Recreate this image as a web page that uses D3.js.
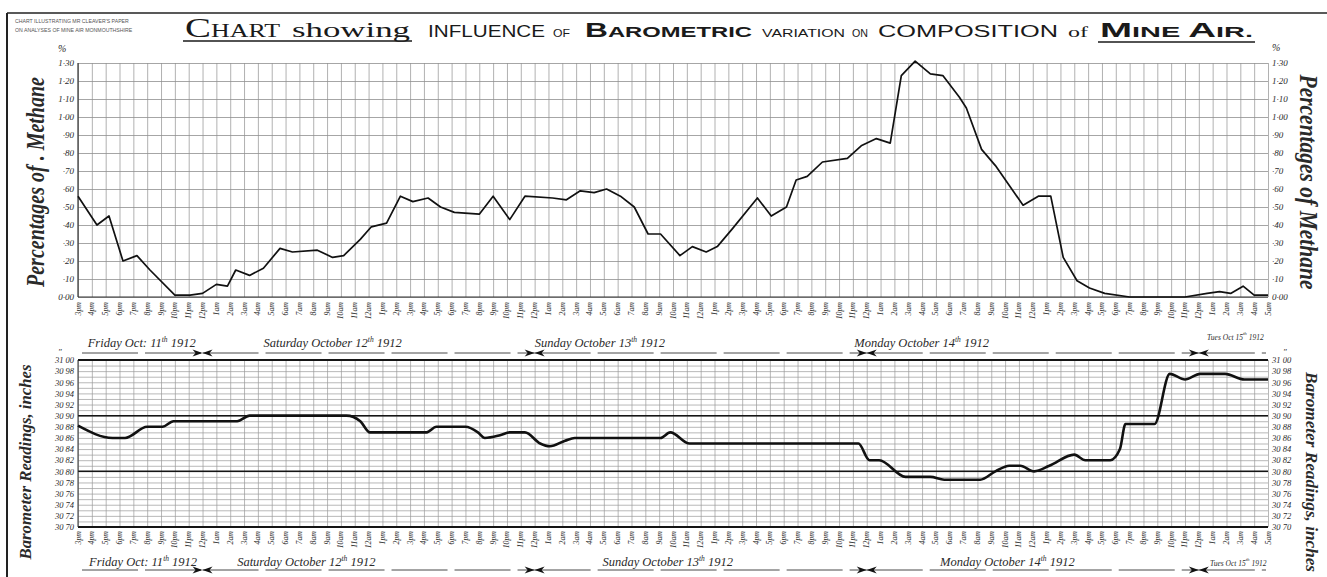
<!DOCTYPE html>
<html><head><meta charset="utf-8">
<script src="https://cdn.jsdelivr.net/npm/d3@7"></script>
<style>
html,body{margin:0;padding:0;background:#fff;}
svg{display:block;}
.lbl{font-family:"Liberation Serif","DejaVu Serif",serif;font-style:italic;fill:#2a2a2a;}
</style></head><body>
<svg id="chart" width="1327" height="577"></svg>
<script>
// Methane in mine air, % by volume; hours counted from 3 p.m. Friday 11 Oct 1912
const methaneHours = [0,1.37,2.24,3.25,4.26,5.2,7.0,8.1,9.0,10.0,10.8,11.4,12.4,13.4,14.6,15.5,17.3,18.4,19.2,20.4,21.2,22.3,23.3,24.2,25.3,26.2,27.2,29.0,30.0,31.2,32.3,34.3,35.3,36.3,37.3,38.2,39.2,40.2,41.2,42.1,43.5,44.4,45.4,46.2,47.3,49.1,50.1,51.2,51.9,52.7,53.8,55.6,56.6,57.7,58.7,59.5,60.5,61.6,62.5,63.7,64.2,65.3,66.3,68.3,69.4,70.3,71.2,72.2,73.1,74.2,76.0,80.0,81.6,82.5,83.3,84.2,85.0,86];
const methaneValues = [0.56,0.40,0.45,0.20,0.23,0.15,0.01,0.01,0.02,0.07,0.06,0.15,0.12,0.16,0.27,0.25,0.26,0.22,0.23,0.32,0.39,0.41,0.56,0.53,0.55,0.50,0.47,0.46,0.56,0.43,0.56,0.55,0.54,0.59,0.58,0.60,0.56,0.50,0.35,0.35,0.23,0.28,0.25,0.28,0.38,0.55,0.45,0.50,0.65,0.67,0.75,0.77,0.84,0.88,0.855,1.23,1.31,1.24,1.23,1.11,1.05,0.82,0.73,0.51,0.56,0.56,0.22,0.09,0.05,0.02,0.00,0.00,0.02,0.03,0.02,0.06,0.01,0.01];

// Barometer, inches of mercury, same time base
const pressureHours = [0,2.5,3.4,5.0,6.1,6.9,11.5,12.4,19.4,20.4,21.1,25.2,25.9,28.0,28.9,29.4,30.5,31.2,32.3,33.4,34.1,35.2,35.9,42.1,42.8,44.2,56.4,57.2,57.9,59.8,61.6,62.6,65.2,66.3,67.3,68.1,69.1,70.2,72.0,72.8,74.6,75.3,75.7,77.8,78.9,80.0,81.1,82.9,84.3,86];
const pressureValues = [30.882,30.86,30.86,30.88,30.88,30.89,30.89,30.90,30.90,30.89,30.87,30.87,30.88,30.88,30.87,30.86,30.865,30.87,30.87,30.85,30.845,30.855,30.86,30.86,30.87,30.85,30.85,30.82,30.82,30.79,30.79,30.785,30.785,30.80,30.81,30.81,30.80,30.81,30.83,30.82,30.82,30.84,30.885,30.885,30.975,30.965,30.975,30.975,30.965,30.965];

// axis ticks
const methaneTicks = [0,0.1,0.2,0.3,0.4,0.5,0.6,0.7,0.8,0.9,1.0,1.1,1.2,1.3];
const methaneTickLabels = ["0·00","·10","·20","·30","·40","·50","·60","·70","·80","·90","1·00","1·10","1·20","1·30"];
const pressureTicks = [30.70,30.72,30.74,30.76,30.78,30.80,30.82,30.84,30.86,30.88,30.90,30.92,30.94,30.96,30.98,31.00];
const pressureTickLabels = ["30 70","30 72","30 74","30 76","30 78","30 80","30 82","30 84","30 86","30 88","30 90","30 92","30 94","30 96","30 98","31 00"];

// clock names by hour of day (midnight written 12pm, noon 12am)
const clockCycle = ["12pm","1am","2am","3am","4am","5am","6am","7am","8am","9am","10am","11am","12am","1pm","2pm","3pm","4pm","5pm","6pm","7pm","8pm","9pm","10pm","11pm"];
const firstClockHour = 15;
const hourCount = 86;

// day spans (hours) and where their names sit
const dayNames = [["Friday Oct: 11","th"," 1912"],["Saturday  October 12","th"," 1912"],["Sunday  October 13","th"," 1912"],["Monday  October 14","th"," 1912"],["Tues Oct 15","th"," 1912"]];
const dayStarts = [0,9,33,57,81];
const dayEnds = [9,33,57,81,86];
const upperNameAt = [0.7,13.4,33.0,56.1,81.6];
const lowerNameAt = [0.8,11.5,37.9,62.3,81.8];

const svg = d3.select("#chart");
const L = 78, R = 1268;
const x = d3.scaleLinear().domain([0, hourCount]).range([L, R]);
const yM = d3.scaleLinear().domain([0, 1.3]).range([297, 63]);
const yP = d3.scaleLinear().domain([30.70, 31.00]).range([527, 360]);
const hours = d3.range(0, hourCount + 1);

// page frame
svg.append("line").attr("x1",7).attr("x2",1327).attr("y1",13).attr("y2",13).attr("stroke","#222").attr("stroke-width",1.6);
svg.append("line").attr("x1",7).attr("x2",7).attr("y1",13).attr("y2",577).attr("stroke","#222").attr("stroke-width",2);

// note in the corner
svg.append("text").attr("x",15).attr("y",23).attr("font-family","Liberation Sans").attr("font-size",5.2).attr("fill","#555").text("CHART ILLUSTRATING MR CLEAVER'S  PAPER");
svg.append("text").attr("x",15).attr("y",32).attr("font-family","Liberation Sans").attr("font-size",5.2).attr("fill","#555").text("ON  ANALYSES OF MINE AIR   MONMOUTHSHIRE");

// title, word by word
function word(txt, x0, x1, opts) {
  const t = svg.append("text").attr("x", x0).attr("y", opts.y || 37)
    .attr("font-family", opts.family).attr("font-size", opts.size)
    .attr("font-weight", opts.weight || "normal").attr("fill", "#1a1a1a")
    .attr("textLength", x1 - x0).attr("lengthAdjust", "spacingAndGlyphs");
  if (Array.isArray(txt)) txt.forEach(p => t.append("tspan").attr("font-size", p[1]).text(p[0]));
  else t.text(txt);
  return t;
}
const serif = "Liberation Serif", sans = "Liberation Sans";
word([["C",27],["HART",18]], 185, 280, {family: serif, size: 18});
word("showing", 292, 410, {family: serif, size: 22});
svg.append("line").attr("x1",183).attr("x2",412).attr("y1",41).attr("y2",41).attr("stroke","#1a1a1a").attr("stroke-width",1.4);
word("INFLUENCE", 428, 545, {family: sans, size: 16});
word("OF", 553, 570, {family: sans, size: 10});
word([["B",20],["AROMETRIC",15]], 585, 752, {family: sans, size: 15, weight: "bold"});
word("VARIATION", 762, 845, {family: sans, size: 11});
word("ON", 852, 868, {family: sans, size: 11});
word("COMPOSITION", 878, 1058, {family: sans, size: 16});
word("of", 1068, 1088, {family: serif, size: 15});
word([["M",20],["INE ",15],["A",20],["IR.",15]], 1100, 1253, {family: sans, size: 15, weight: "bold"});
svg.append("line").attr("x1",1098).attr("x2",1255).attr("y1",42).attr("y2",42).attr("stroke","#1a1a1a").attr("stroke-width",1.4);

// ---------- methane panel ----------
const methanePanel = svg.append("g");
methanePanel.append("g").attr("transform", `translate(0,${yM(0)})`)
  .call(d3.axisBottom(x).tickValues(hours).tickSize(-(yM(0) - yM(1.3))).tickFormat(""))
  .call(g => g.select(".domain").remove())
  .call(g => g.selectAll("line").attr("stroke", "#8f8f8f").attr("stroke-width", 0.7));
methanePanel.append("g").attr("transform", `translate(${L},0)`)
  .call(d3.axisLeft(yM).tickValues(methaneTicks).tickSize(-(R - L)).tickFormat(""))
  .call(g => g.select(".domain").remove())
  .call(g => g.selectAll("line").attr("stroke", "#8f8f8f").attr("stroke-width", 0.8));
methanePanel.append("line").attr("x1",L).attr("x2",R).attr("y1",yM(0)).attr("y2",yM(0)).attr("stroke","#333").attr("stroke-width",1.2);
methanePanel.append("line").attr("x1",L).attr("x2",L).attr("y1",yM(0)).attr("y2",yM(1.3)).attr("stroke","#333").attr("stroke-width",1.2);

// value labels both sides
[[L - 4, "end"], [R + 4, "start"]].forEach(([px, anchor]) => {
  methanePanel.append("g").attr("transform", `translate(${px},0)`)
    .call(d3.axisLeft(yM).tickValues(methaneTicks).tickSize(0).tickPadding(0)
      .tickFormat((d, i) => methaneTickLabels[i]))
    .call(g => g.select(".domain").remove())
    .call(g => g.selectAll("text").attr("class", "lbl").attr("font-size", 9)
      .attr("text-anchor", anchor).attr("fill", "#2a2a2a"));
});
svg.append("text").attr("class","lbl").attr("x",58).attr("y",52).attr("font-size",10).text("%");
svg.append("text").attr("class","lbl").attr("x",1272).attr("y",51).attr("font-size",10).text("%");

const methaneLine = d3.line().x(d => x(d[0])).y(d => yM(d[1]));
methanePanel.append("path").datum(d3.zip(methaneHours, methaneValues))
  .attr("d", methaneLine).attr("fill", "none").attr("stroke", "#111")
  .attr("stroke-width", 1.7).attr("stroke-linejoin", "round");

// ---------- barometer panel ----------
const pressurePanel = svg.append("g");
const pressureFine = d3.range(0, 31).map(i => 30.70 + i * 0.01);
pressurePanel.append("g").attr("transform", `translate(${L},0)`)
  .call(d3.axisLeft(yP).tickValues(pressureFine).tickSize(-(R - L)).tickFormat(""))
  .call(g => g.select(".domain").remove())
  .call(g => g.selectAll("line").attr("stroke", "#9a9a9a").attr("stroke-width", 0.7));
pressurePanel.append("g").attr("transform", `translate(0,${yP(30.70)})`)
  .call(d3.axisBottom(x).tickValues(hours).tickSize(-(yP(30.70) - yP(31.00))).tickFormat(""))
  .call(g => g.select(".domain").remove())
  .call(g => g.selectAll("line").attr("stroke", "#9a9a9a").attr("stroke-width", 0.7));
[[31.00, 2.2], [30.90, 1.5], [30.80, 1.5], [30.70, 2.2]].forEach(([v, w]) => {
  pressurePanel.append("line").attr("x1", L).attr("x2", R).attr("y1", yP(v)).attr("y2", yP(v))
    .attr("stroke", "#151515").attr("stroke-width", w);
});
pressurePanel.append("line").attr("x1",L).attr("x2",L).attr("y1",yP(30.70)).attr("y2",yP(31.0)).attr("stroke","#333").attr("stroke-width",1);

[[L - 4, "end"], [R + 4, "start"]].forEach(([px, anchor]) => {
  pressurePanel.append("g").attr("transform", `translate(${px},0)`)
    .call(d3.axisLeft(yP).tickValues(pressureTicks).tickSize(0).tickPadding(0)
      .tickFormat((d, i) => pressureTickLabels[i]))
    .call(g => g.select(".domain").remove())
    .call(g => g.selectAll("text").attr("class", "lbl").attr("font-size", 8.5)
      .attr("text-anchor", anchor).attr("fill", "#2a2a2a"));
});
// inch marks beside the 31 inch labels
svg.append("text").attr("class","lbl").attr("x",58).attr("y",355).attr("font-size",9).text("″");
svg.append("text").attr("class","lbl").attr("x",1283).attr("y",355).attr("font-size",9).text("″");

const pressureLine = d3.line().x(d => x(d[0])).y(d => yP(d[1])).curve(d3.curveMonotoneX);
pressurePanel.append("path").datum(d3.zip(pressureHours, pressureValues))
  .attr("d", pressureLine).attr("fill", "none").attr("stroke", "#111")
  .attr("stroke-width", 2.6).attr("stroke-linejoin", "round");

// ---------- hour names under both panels ----------
function hourNames(yTop) {
  svg.append("g").selectAll("text").data(hours).join("text")
    .attr("class", "lbl").attr("font-size", 7.8)
    .attr("text-anchor", "end")
    .attr("transform", h => `translate(${x(h) + 2.5},${yTop}) rotate(-90)`)
    .text(h => clockCycle[(firstClockHour + h) % 24]);
}
hourNames(302);
hourNames(531);

// ---------- day names with arrowed rules ----------
function dayRow(nameAt, textY, ruleY, lastLift) {
  const g = svg.append("g");
  dayNames.forEach((parts, i) => {
    const last = i === dayNames.length - 1;
    const t = g.append("text").attr("class", "lbl").attr("x", x(nameAt[i]))
      .attr("y", last ? textY - lastLift : textY)
      .attr("font-size", last ? 7.5 : 12.5).attr("fill", "#3a3a3a");
    t.append("tspan").text(parts[0]);
    t.append("tspan").attr("font-size", last ? 5 : 7.5).attr("dy", -5).text(parts[1]);
    t.append("tspan").attr("dy", 5).text(parts[2]);
    const a = x(dayStarts[i]) + (i === 0 ? 4 : 0), b = x(dayEnds[i]) - (last ? 2 : 0);
    g.append("line").attr("x1", a).attr("x2", b).attr("y1", ruleY).attr("y2", ruleY)
      .attr("stroke", "#333").attr("stroke-width", 0.9).attr("stroke-dasharray", "56,7");
  });
  // arrowheads meeting at each midnight
  dayStarts.slice(1).forEach(h => {
    const cx = x(h);
    g.append("path").attr("d", `M${cx},${ruleY} L${cx - 10},${ruleY - 3.5} L${cx - 7},${ruleY} L${cx - 10},${ruleY + 3.5} Z`).attr("fill", "#111");
    g.append("path").attr("d", `M${cx},${ruleY} L${cx + 10},${ruleY - 3.5} L${cx + 7},${ruleY} L${cx + 10},${ruleY + 3.5} Z`).attr("fill", "#111");
  });
}
dayRow(upperNameAt, 347, 353, 7);
dayRow(lowerNameAt, 566, 570, 0);

// ---------- panel titles ----------
function sideTitle(txt, cx, cy, rot, size, len) {
  svg.append("text").attr("class", "lbl").attr("font-size", size).attr("font-weight", "bold")
    .attr("fill", "#151515").attr("text-anchor", "middle")
    .attr("textLength", len).attr("lengthAdjust", "spacingAndGlyphs")
    .attr("transform", `translate(${cx},${cy}) rotate(${rot})`).text(txt);
}
sideTitle("Percentages of . Methane", 44, 182, -90, 25, 210);
sideTitle("Percentages of Methane", 1300, 182, 90, 25, 215);
sideTitle("Barometer Readings, inches", 31, 462, -90, 17, 195);
sideTitle("Barometer Readings, inches", 1306, 472, 90, 17, 200);
</script>
</body></html>
